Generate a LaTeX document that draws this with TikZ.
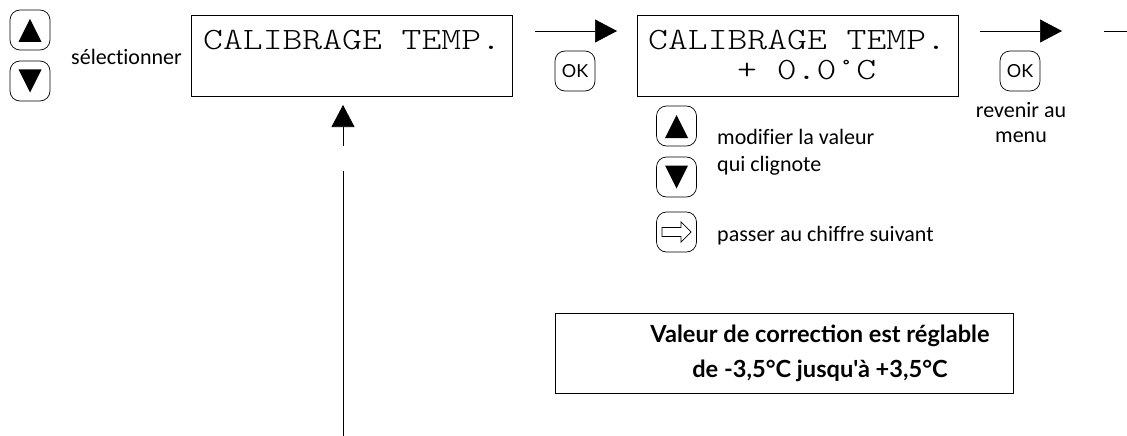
\documentclass[tikz,border=0pt]{standalone}
\usepackage{fontspec}
\setmainfont[Ligatures=NoCommon]{Carlito}
\setsansfont{Lato}
\newfontfamily\notefont{Lato}
\newfontfamily\lcdfont[FakeStretch=1.22]{Latin Modern Mono Light}
\usetikzlibrary{arrows.meta}
\tikzset{
  x=1pt, y=-1pt,
  btn/.style={draw, line width=0.7pt, rounded corners=10pt, minimum size=40pt, inner sep=0pt},
  btnup/.style={btn, path picture={\fill[sharp corners] (path picture bounding box.center) ++(0,-11) -- ++(11.5,23) -- ++(-23,0) -- cycle;}},
  btndown/.style={btn, path picture={\fill[sharp corners] (path picture bounding box.center) ++(0,11.5) -- ++(11.5,-23) -- ++(-23,0) -- cycle;}},
  btnright/.style={btn, path picture={\draw[sharp corners, line width=0.7pt] (path picture bounding box.center)
    ++(-14.5,-4.5) -- ++(19,0) -- ++(0,-5.5) -- ++(10,10) -- ++(-10,10) -- ++(0,-5.5) -- ++(-19,0) -- cycle;}},
  btnok/.style={btn, font=\fontsize{18}{18}\selectfont\sffamily},
  lcdbox/.style={draw, line width=1pt, minimum width=321pt, minimum height=80pt, inner sep=0pt},
  lcdtext/.style={font=\fontsize{31}{31}\selectfont\lcdfont, inner sep=0pt, anchor=base west},
  lbl/.style={font=\fontsize{22}{25}\selectfont, inner sep=0pt},
  lblbold/.style={font=\fontsize{23.6}{27}\selectfont\notefont\bfseries, inner sep=0pt, anchor=base},
  flow/.style={draw, line width=0.7pt, -{Triangle[length=22pt,width=23pt]}},
}
\begin{document}
\begin{tikzpicture}
        \useasboundingbox (0, 0) rectangle (1127, 436);

        \node[btnup] (up) at (30, 30) {};
        \node[btndown] (down) at (30, 81) {};
        \node[lbl, anchor=base west] (select) at (71, 64) {sélectionner};

        \node[lcdbox] (lcdA) at (351.5, 56) {};
        \node[lcdtext] (lcdAtext) at (203, 50) {CALIBRAGE TEMP.};

        \coordinate (flowAstart) at (535, 31);
        \coordinate (flowAend) at (617, 31);
        \draw[flow] (flowAstart) -- (flowAend);
        \node[btnok] (okA) at (575, 71) {OK};

        \node[lcdbox] (lcdB) at (797.5, 56) {};
        \node[lcdtext] (lcdBtext) at (648, 50) {CALIBRAGE TEMP.};
        \node[lcdtext] (lcdBval) at (737, 80) {+ 0.0°C};

        \coordinate (flowBstart) at (980, 31);
        \coordinate (flowBend) at (1062, 31);
        \draw[flow] (flowBstart) -- (flowBend);
        \node[btnok] (okB) at (1020, 71) {OK};
        \node[lbl, anchor=base] (backA) at (1021, 117) {revenir au};
        \node[lbl, anchor=base] (backB) at (1021, 142) {menu};

        \coordinate (stubA) at (1104, 31);
        \coordinate (stubB) at (1127, 31);
        \draw[line width=0.7pt] (stubA) -- (stubB);

        % up arrow under the first display
        \coordinate (riseA) at (343, 146);
        \coordinate (riseB) at (343, 105);
        \draw[flow] (riseA) -- (riseB);
        \coordinate (longA) at (343, 436);
        \coordinate (longB) at (343, 171);
        \draw[line width=0.7pt] (longA) -- (longB);

        \node[btnup] (upB) at (676.5, 126) {};
        \node[btndown] (downB) at (676.5, 177) {};
        \node[btnright] (next) at (676.5, 232) {};
        \node[lbl, anchor=base west] (modify) at (717, 144) {modifier la valeur};
        \node[lbl, anchor=base west] (blink) at (717, 171) {qui clignote};
        \node[lbl, anchor=base west] (pass) at (717, 241) {passer au chiffre suivant};

        \node[draw, line width=1pt, minimum width=458pt, minimum height=80pt] (note) at (784, 353) {};
        \node[lblbold] (noteA) at (820, 342) {Valeur de correction est réglable};
        \node[lblbold] (noteB) at (820, 377) {de -3,5°C jusqu'à +3,5°C};
      \end{tikzpicture}
\end{document}
